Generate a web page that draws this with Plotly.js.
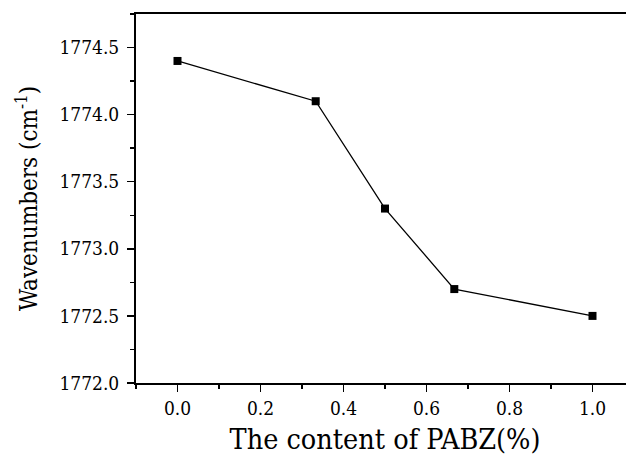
<!DOCTYPE html>
<html>
<head>
<meta charset="utf-8">
<script src="https://cdn.plot.ly/plotly-3.0.1.min.js"></script>
<style>
html,body{margin:0;padding:0;overflow:hidden;background:#fff;}
#chart{width:640px;height:461px;}
</style>
</head>
<body>
<div id="chart"></div>
<script>
const contentPABZ = [0.0, 0.333, 0.5, 0.667, 1.0];
const wavenumbers = [1774.4, 1774.1, 1773.3, 1772.7, 1772.5];
const xTitle = "The content of PABZ(%)";
const yTitle = "Wavenumbers (cm<sup>-1</sup>)";

const fontFam = "DejaVu Serif Condensed, DejaVu Serif, serif";

const trace = {
  x: contentPABZ,
  y: wavenumbers,
  type: 'scatter',
  mode: 'lines+markers',
  line: {color: '#000', width: 1.3},
  marker: {symbol: 'square', size: 8, color: '#000'}
};

const layout = {
  width: 640,
  height: 461,
  margin: {l: 136, r: 6, t: 13.5, b: 78.3},
  paper_bgcolor: '#fff',
  plot_bgcolor: '#fff',
  showlegend: false,
  font: {family: fontFam, color: '#000', size: 19},
  xaxis: {
    range: [-0.1, 1.1],
    dtick: 0.2,
    tick0: 0,
    tickformat: '.1f',
    ticks: 'outside',
    ticklen: 7,
    tickwidth: 1.5,
    tickcolor: '#000',
    showline: true,
    linewidth: 2,
    linecolor: '#000',
    mirror: true,
    showgrid: false,
    zeroline: false,
    tickfont: {size: 19, family: fontFam, color: '#000'},
    minor: {dtick: 0.1, ticks: 'outside', ticklen: 4, tickwidth: 1.5, tickcolor: '#000', showgrid: false},
    title: {text: xTitle, font: {size: 28.5, family: fontFam, color: '#000'}, standoff: 11}
  },
  yaxis: {
    range: [1772.0, 1774.75],
    dtick: 0.5,
    tick0: 1772,
    tickformat: '.1f',
    ticks: 'outside',
    ticklen: 7,
    tickwidth: 1.5,
    tickcolor: '#000',
    showline: true,
    linewidth: 2,
    linecolor: '#000',
    mirror: true,
    showgrid: false,
    zeroline: false,
    ticklabelstandoff: 4,
    tickfont: {size: 19, family: fontFam, color: '#000'},
    minor: {dtick: 0.25, ticks: 'outside', ticklen: 4, tickwidth: 1.5, tickcolor: '#000', showgrid: false},
    title: {text: yTitle, font: {size: 24, family: fontFam, color: '#000'}, standoff: 15}
  }
};

Plotly.newPlot('chart', [trace], layout, {displayModeBar: false, staticPlot: true});
</script>
</body>
</html>
